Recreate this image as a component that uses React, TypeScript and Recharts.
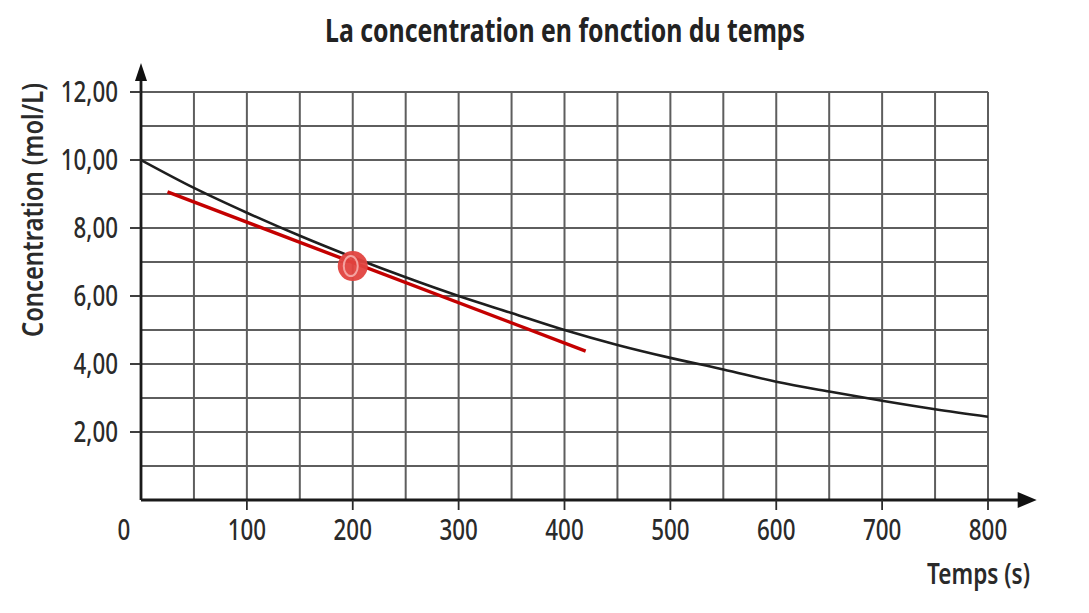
import React from 'react';
import {
  ComposedChart,
  Line,
  Scatter,
  XAxis,
  YAxis,
  CartesianGrid,
  ReferenceLine,
  Label,
} from 'recharts';

// temps (s)
const times = [0, 50, 100, 150, 200, 250, 300, 350, 400, 450, 500, 550, 600, 650, 700, 750, 800];
// concentration (mol/L)
const concentrations = [10, 9.18, 8.45, 7.77, 7.14, 6.55, 6.0, 5.5, 5.0, 4.56, 4.18, 3.84, 3.48, 3.19, 2.92, 2.67, 2.45];

// red tangent drawn by hand
const tangentTimes = [25, 420];
const tangentValues = [9.06, 4.38];

// red mark on the curve
const markTime = [200];
const markValue = [6.88];

const xTicks = [0, 100, 200, 300, 400, 500, 600, 700, 800];
const yTicks = [2, 4, 6, 8, 10, 12];
const gridX = [0, 50, 100, 150, 200, 250, 300, 350, 400, 450, 500, 550, 600, 650, 700, 750, 800];
const gridY = [0, 1, 2, 3, 4, 5, 6, 7, 8, 9, 10, 11, 12];

const curve = times.map((t, i) => ({ t, c: concentrations[i] }));
const tangent = tangentTimes.map((t, i) => ({ t, c: tangentValues[i] }));
const mark = markTime.map((t, i) => ({ t, c: markValue[i] }));

const FONT = "'Noto Sans', 'Open Sans', sans-serif";
const INK = '#2a2a2a';

// the source uses a condensed face, so squeeze the text to the measured widths
const numWidth = (s: string) => s.split('').reduce((w, ch) => w + (ch === ',' ? 6 : 12.8), 0);

function XTick({ x, y, payload }: any) {
  const v = payload.value;
  const s = String(v);
  return (
    <g>
      {v !== 0 && <line x1={x} y1={y} x2={x} y2={y + 10} stroke={INK} strokeWidth={1.8} />}
      <text
        x={v === 0 ? x - 17 : x}
        y={y + 40}
        textAnchor="middle"
        fontFamily={FONT}
        fontSize={28}
        fontWeight={500}
        fill={INK}
        textLength={numWidth(s)}
        lengthAdjust="spacingAndGlyphs"
      >
        {s}
      </text>
    </g>
  );
}

function YTick({ x, y, payload }: any) {
  const s = payload.value.toFixed(2).replace('.', ',');
  return (
    <g>
      <line x1={x - 11} y1={y} x2={x} y2={y} stroke={INK} strokeWidth={1.8} />
      <text
        x={x - 23}
        y={y + 10}
        textAnchor="end"
        fontFamily={FONT}
        fontSize={28}
        fontWeight={500}
        fill={INK}
        textLength={numWidth(s)}
        lengthAdjust="spacingAndGlyphs"
      >
        {s}
      </text>
    </g>
  );
}

function ArrowAxis(props: any) {
  const { x1, y1, x2, y2 } = props;
  const vertical = Math.abs(x1 - x2) < 1;
  const head = vertical
    ? `${x2},${y2} ${x2 - 6},${y2 + 18} ${x2 + 6},${y2 + 18}`
    : `${x2},${y2} ${x2 - 19},${y2 - 8} ${x2 - 19},${y2 + 8}`;
  return (
    <g>
      <line
        x1={x1}
        y1={y1}
        x2={vertical ? x2 : x2 - 14}
        y2={vertical ? y2 + 14 : y2}
        stroke="#1a1a1a"
        strokeWidth={2.8}
      />
      <polygon points={head} fill="#111" />
    </g>
  );
}

function Mark({ cx, cy }: any) {
  return (
    <g>
      <circle cx={cx} cy={cy} r={15} fill="#e2433f" opacity={0.95} />
      <ellipse cx={cx - 2} cy={cy} rx={7} ry={10} fill="none" stroke="#f4a3a0" strokeWidth={2} />
    </g>
  );
}

export default function App() {
  return (
    <div style={{ position: 'absolute', left: 0, top: 0, width: 1089, height: 613, background: '#fff' }}>
      <ComposedChart
        width={1089}
        height={613}
        margin={{ top: 92, right: 101, bottom: 0, left: 0 }}
        style={{ position: 'absolute', left: 0, top: 0 }}
      >
        <CartesianGrid
          horizontalValues={gridY}
          verticalValues={gridX}
          stroke="#5e5e5e"
          strokeWidth={2}
          strokeDasharray=""
        />
        <XAxis
          type="number"
          dataKey="t"
          domain={[0, 800]}
          ticks={xTicks}
          tick={<XTick />}
          tickLine={false}
          tickSize={0}
          tickMargin={0}
          axisLine={false}
          height={113}
          allowDataOverflow
        >
          <Label
            value="Temps (s)"
            content={() => (
              <text
                x={927}
                y={584}
                fontFamily={FONT}
                fontWeight={600}
                fontSize={28}
                fill={INK}
                textLength={103}
                lengthAdjust="spacingAndGlyphs"
              >
                Temps (s)
              </text>
            )}
          />
        </XAxis>
        <YAxis
          type="number"
          dataKey="c"
          domain={[0, 12]}
          ticks={yTicks}
          tick={<YTick />}
          tickLine={false}
          tickSize={0}
          tickMargin={0}
          axisLine={false}
          width={141}
          allowDataOverflow
        >
          <Label
            value="Concentration (mol/L)"
            content={() => (
              <g>
                <text
                  x={43}
                  y={337}
                  transform="rotate(-90 43 337)"
                  fontFamily={FONT}
                  fontWeight={600}
                  fontSize={28}
                  fill={INK}
                  textLength={254}
                  lengthAdjust="spacingAndGlyphs"
                >
                  Concentration (mol/L)
                </text>
                <text
                  x={325}
                  y={42}
                  fontFamily={FONT}
                  fontWeight={700}
                  fontSize={33}
                  fill="#222"
                  textLength={480}
                  lengthAdjust="spacingAndGlyphs"
                >
                  La concentration en fonction du temps
                </text>
              </g>
            )}
          />
        </YAxis>
        <ReferenceLine segment={[{ x: 0, y: 0 }, { x: 0, y: 12.85 }]} ifOverflow="visible" shape={<ArrowAxis />} />
        <ReferenceLine segment={[{ x: 0, y: 0 }, { x: 846, y: 0 }]} ifOverflow="visible" shape={<ArrowAxis />} />
        <Scatter data={mark} dataKey="c" shape={<Mark />} isAnimationActive={false} />
        <Line
          data={curve}
          dataKey="c"
          type="monotone"
          stroke="#1e1e1e"
          strokeWidth={2.6}
          dot={false}
          activeDot={false}
          isAnimationActive={false}
        />
        <Line
          data={tangent}
          dataKey="c"
          type="linear"
          stroke="#c40000"
          strokeWidth={3.4}
          dot={false}
          activeDot={false}
          isAnimationActive={false}
        />
      </ComposedChart>
    </div>
  );
}
